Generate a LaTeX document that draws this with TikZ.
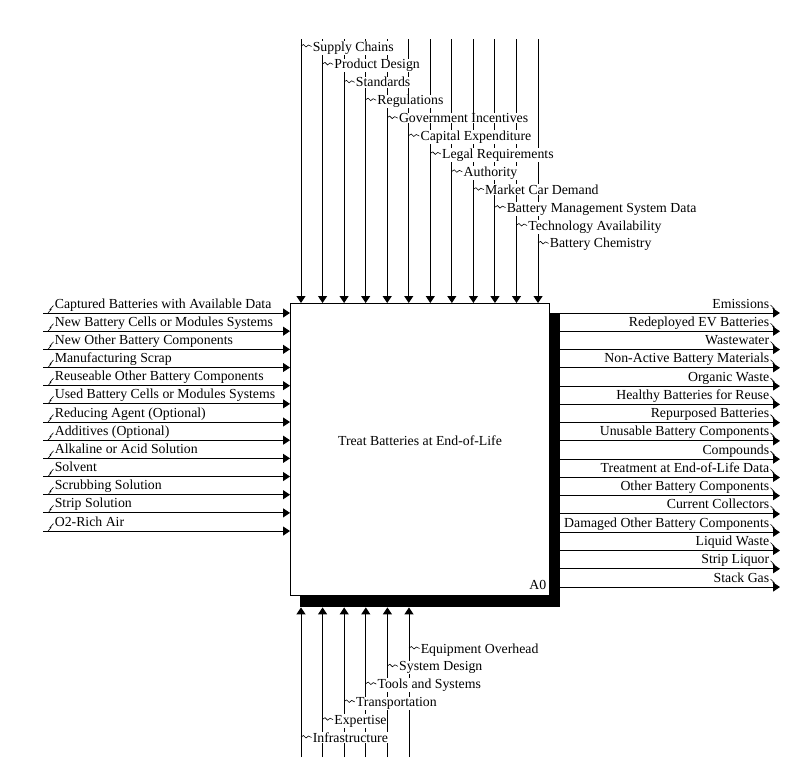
\documentclass[tikz,border=0pt]{standalone}
\usepackage{fontspec}
\setmainfont{Liberation Serif}
\usetikzlibrary{arrows.meta}
\begin{document}
\begin{tikzpicture}[x=1pt,y=-1pt,
  flow/.style={line width=1pt,-{Triangle[length=7pt,width=9pt]}},
  lbl/.style={font=\fontsize{13.8}{15}\selectfont, inner sep=0.6pt},
  wlbl/.style={lbl, fill=white},
  sq/.style={line width=0.6pt}]
\useasboundingbox (0,0) rectangle (803,772);
% shadow and box
\node[fill=black, minimum width=260pt, minimum height=294pt, inner sep=0pt, anchor=north west] (shadow) at (300,313) {};
\node[draw, fill=white, line width=1pt, minimum width=259pt, minimum height=292pt, inner sep=0pt, anchor=north west] (box) at (290,303) {};
\node[lbl] (title) at (420,441) {Treat Batteries at End-of-Life};
\node[lbl, anchor=base east] (a0) at (547,589) {A0};
% controls (top)
\foreach \t [count=\i from 0] in {Supply Chains, Product Design, Standards, Regulations, Government Incentives, Capital Expenditure, Legal Requirements, Authority, Market Car Demand, Battery Management System Data, Technology Availability, Battery Chemistry} {
  \pgfmathsetmacro\xx{301+21.55*\i}
  \coordinate (ct\i) at (\xx,39);
  \draw[flow] (ct\i) -- (ct\i |- box.north);
}
\foreach \t [count=\i from 0] in {Supply Chains, Product Design, Standards, Regulations, Government Incentives, Capital Expenditure, Legal Requirements, Authority, Market Car Demand, Battery Management System Data, Technology Availability, Battery Chemistry} {
  \pgfmathsetmacro\xx{301+21.55*\i}
  \pgfmathsetmacro\yy{51+17.9*\i}
  \node[wlbl, anchor=base west] (cl\i) at (\xx+11,\yy) {\t};
  \draw[sq] (\xx,\yy-5) -- (\xx+2.5,\yy-6.5) -- (\xx+5,\yy-4) -- (\xx+7.5,\yy-6) -- (\xx+10.5,\yy-4.5);
}
% inputs (left)
\foreach \t [count=\j from 0] in {Captured Batteries with Available Data, New Battery Cells or Modules Systems, New Other Battery Components, Manufacturing Scrap, Reuseable Other Battery Components, Used Battery Cells or Modules Systems, Reducing Agent (Optional), Additives (Optional), Alkaline or Acid Solution, Solvent, Scrubbing Solution, Strip Solution, O2-Rich Air} {
  \pgfmathsetmacro\yy{313+18.17*\j}
  \coordinate (in\j) at (43,\yy);
  \draw[flow] (in\j) -- (in\j -| box.west);
  \node[lbl, anchor=base west] (il\j) at (54,\yy-5) {\t};
  \draw[sq] (48,\yy) -- (51,\yy-3.5) -- (50,\yy-3.5) -- (53.5,\yy-7.5);
}
% outputs (right)
\foreach \t [count=\k from 0] in {Emissions, Redeployed EV Batteries, Wastewater, Non-Active Battery Materials, Organic Waste, Healthy Batteries for Reuse, Repurposed Batteries, Unusable Battery Components, Compounds, Treatment at End-of-Life Data, Other Battery Components, Current Collectors, Damaged Other Battery Components, Liquid Waste, Strip Liquor, Stack Gas} {
  \pgfmathsetmacro\yy{313+18.27*\k}
  \coordinate (out\k) at (780,\yy);
  \draw[flow] (out\k -| shadow.east) -- (out\k);
  \node[lbl, anchor=base east] (ol\k) at (770,\yy-5) {\t};
  \draw[sq] (770.5,\yy-8) -- (774,\yy-4.5) -- (773,\yy-4.5) -- (777,\yy-1);
}
% mechanisms (bottom)
\foreach \t [count=\m from 0] in {Infrastructure, Expertise, Transportation, Tools and Systems, System Design, Equipment Overhead} {
  \pgfmathsetmacro\xx{301+21.6*\m}
  \coordinate (mb\m) at (\xx,757);
  \draw[flow] (mb\m) -- (mb\m |- shadow.south);
}
\foreach \t [count=\m from 0] in {Infrastructure, Expertise, Transportation, Tools and Systems, System Design, Equipment Overhead} {
  \pgfmathsetmacro\xx{301+21.6*\m}
  \pgfmathsetmacro\yy{742-17.8*\m}
  \node[wlbl, anchor=base west] (ml\m) at (\xx+11,\yy) {\t};
  \draw[sq] (\xx,\yy-5) -- (\xx+2.5,\yy-6.5) -- (\xx+5,\yy-4) -- (\xx+7.5,\yy-6) -- (\xx+10.5,\yy-4.5);
}
\end{tikzpicture}
\end{document}
